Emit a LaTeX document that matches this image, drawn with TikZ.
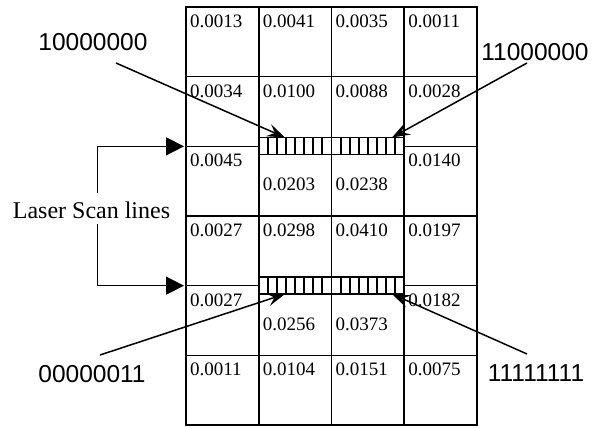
\documentclass[tikz,border=0pt]{standalone}
\usepackage{fontspec}
\setmainfont{Liberation Serif}
\newfontfamily\lblsans{Liberation Sans}
\usetikzlibrary{arrows.meta}
\begin{document}
\begin{tikzpicture}[x=1pt,y=-1pt,
  gridline/.style={line width=1.6pt},
  stripline/.style={line width=2pt},
  cell/.style={anchor=base west,inner sep=0pt,font=\fontsize{19}{22}\selectfont},
  lbl/.style={anchor=base,inner sep=0pt,font=\lblsans\fontsize{24.5}{28}\selectfont},
  scanlbl/.style={anchor=base,inner sep=0pt,font=\fontsize{24}{28}\selectfont},
  ptr/.style={line width=1.5pt,-{Stealth[length=18pt,width=13pt,inset=7pt]}},
  scanarrow/.style={line width=1.5pt,-{Triangle[length=18pt,width=18pt]}}]
\useasboundingbox (0,0) rectangle (600,428);
% grid
\def\cA{186}\def\cB{258.75}\def\cC{331.5}\def\cD{404.25}\def\cE{477}
\draw[gridline] (\cA,7) rectangle (\cE,425);
\foreach \x in {\cB,\cC,\cD} \draw[gridline] (\x,7) -- (\x,425);
\foreach \y in {76.67,146.33,216,285.67,355.33} {
  \draw[gridline] (\cA,\y) -- (\cB,\y);
  \draw[gridline] (\cD,\y) -- (\cE,\y);
}
\foreach \y in {76.67,216,355.33} \draw[gridline] (\cB,\y) -- (\cD,\y);
% scan strips
\foreach \yc in {146,285.67} {
  \draw[gridline] (\cB,\yc-8.5) rectangle (\cD,\yc+8.5);
  \foreach \i in {1,...,7} {
    \draw[stripline] ({\cB+\i*72.75/8},\yc-8.5) -- ({\cB+\i*72.75/8},\yc+8.5);
    \draw[stripline] ({\cC+\i*72.75/8},\yc-8.5) -- ({\cC+\i*72.75/8},\yc+8.5);
  }
}
% cell values
\def\xa{190}\def\xb{262.75}\def\xc{335.5}\def\xd{408.25}
\node[cell] (v11) at (\xa,27.5) {0.0013};
\node[cell] (v12) at (\xb,27.5) {0.0041};
\node[cell] (v13) at (\xc,27.5) {0.0035};
\node[cell] (v14) at (\xd,27.5) {0.0011};
\node[cell] (v21) at (\xa,97.2) {0.0034};
\node[cell] (v22) at (\xb,97.2) {0.0100};
\node[cell] (v23) at (\xc,97.2) {0.0088};
\node[cell] (v24) at (\xd,97.2) {0.0028};
\node[cell] (v31) at (\xa,166.8) {0.0045};
\node[cell] (v32) at (\xb,190) {0.0203};
\node[cell] (v33) at (\xc,190) {0.0238};
\node[cell] (v34) at (\xd,166.8) {0.0140};
\node[cell] (v41) at (\xa,236.5) {0.0027};
\node[cell] (v42) at (\xb,236.5) {0.0298};
\node[cell] (v43) at (\xc,236.5) {0.0410};
\node[cell] (v44) at (\xd,236.5) {0.0197};
\node[cell] (v51) at (\xa,306.2) {0.0027};
\node[cell] (v52) at (\xb,330) {0.0256};
\node[cell] (v53) at (\xc,330) {0.0373};
\node[cell] (v54) at (\xd,306.2) {0.0182};
\node[cell] (v61) at (\xa,375.5) {0.0011};
\node[cell] (v62) at (\xb,375.5) {0.0104};
\node[cell] (v63) at (\xc,375.5) {0.0151};
\node[cell] (v64) at (\xd,375.5) {0.0075};
% labels
\node[lbl] (l1) at (93,50.7) {10000000};
\node[lbl] (l2) at (535,60) {11000000};
\node[lbl] (l3) at (92,382.7) {00000011};
\node[lbl] (l4) at (536,381.7) {11111111};
\node[scanlbl] (laser) at (91.5,218.3) {Laser Scan lines};
% pointer arrows
\coordinate (p1s) at (116,63);   \coordinate (p1e) at (285,137.5);
\coordinate (p2s) at (527,63);   \coordinate (p2e) at (392,137.5);
\coordinate (p3s) at (100,355);  \coordinate (p3e) at (285,294);
\coordinate (p4s) at (527,354);  \coordinate (p4e) at (392,294);
\draw[ptr] (p1s) -- (p1e);
\draw[ptr] (p2s) -- (p2e);
\draw[ptr] (p3s) -- (p3e);
\draw[ptr] (p4s) -- (p4e);
% scan line bracket
\coordinate (brTop) at (97.7,193);
\coordinate (brBot) at (97.7,224);
\coordinate (scanA) at (184,146.33);
\coordinate (scanB) at (184,285.67);
\draw[scanarrow] (brTop) |- (scanA);
\draw[scanarrow] (brBot) |- (scanB);
\end{tikzpicture}
\end{document}
